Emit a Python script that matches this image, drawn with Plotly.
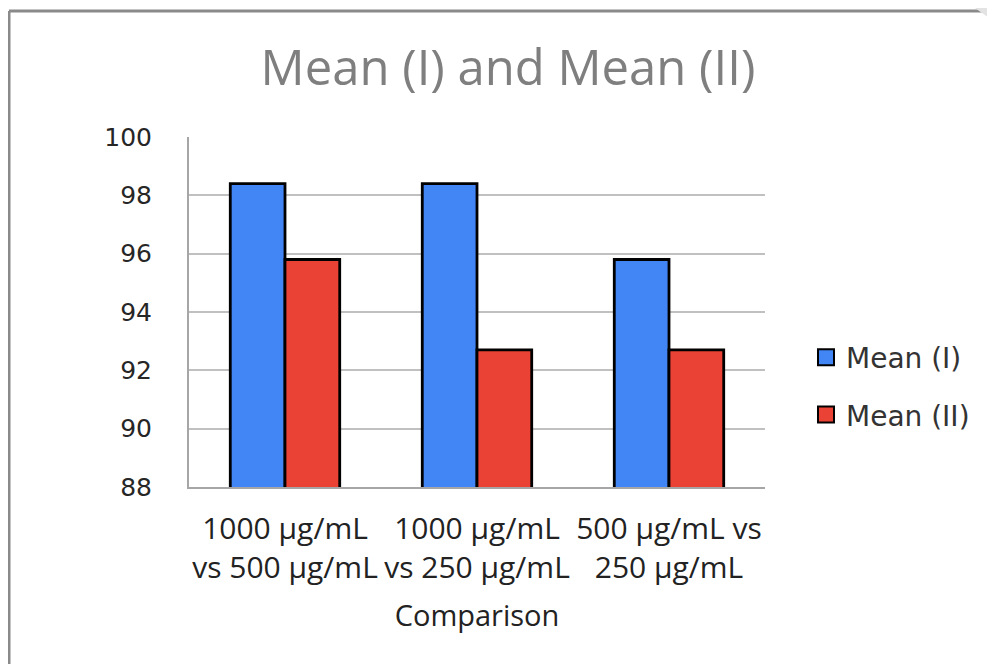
import plotly.graph_objects as go

categories = ["1000 µg/mL<br>vs 500 µg/mL", "1000 µg/mL<br>vs 250 µg/mL", "500 µg/mL vs<br>250 µg/mL"]
mean_1 = [98.4, 98.4, 95.8]
mean_2 = [95.8, 92.7, 92.7]
series_names = ["Mean (I)", "Mean (II)"]
y_ticks = [88, 90, 92, 94, 96, 98, 100]

# page body margin offsets the figure by 8px; work in screen coordinates
OFF = 8
SW, SH = 995, 664
W, H = SW - OFF, SH - OFF
PL, PR, PT, PB = 189, 765, 137, 487  # plot area in screen px
L, R, T, B = PL - OFF, SW - PR, PT - OFF, SH - PB
pw, ph = PR - PL, PB - PT

def px(x):
    return (x - PL) / pw

def py(y):
    return (PB - y) / ph

BLUE = "#4285f4"
RED = "#ea4335"

fig = go.Figure()
for name, vals, col in [(series_names[0], mean_1, BLUE), (series_names[1], mean_2, RED)]:
    fig.add_trace(go.Bar(x=categories, y=vals, name=name, showlegend=False,
                         marker=dict(color=col, line=dict(color="#000000", width=2.8))))
for i, (name, col) in enumerate([(series_names[0], BLUE), (series_names[1], RED)]):
    fig.add_trace(go.Scatter(x=[None], y=[None], mode="markers", name=name, legendgroup=f"g{i}",
                             marker=dict(symbol="square", size=16, color=col,
                                         line=dict(color="#000000", width=2))))

shapes = [
    dict(type="line", xref="paper", yref="paper", x0=px(9), x1=px(SW + 5), y0=py(11), y1=py(11),
         line=dict(color="#8a8a8a", width=3)),
    dict(type="line", xref="paper", yref="paper", x0=px(9), x1=px(9), y0=py(11), y1=py(SH + 5),
         line=dict(color="#8a8a8a", width=3)),
    dict(type="path", xref="paper", yref="paper",
         path=f"M {px(975)},{py(OFF)} L {px(SW)},{py(OFF)} L {px(SW)},{py(22)} Z",
         fillcolor="#e3e3e3", line=dict(width=0)),
]

fig.update_layout(
    width=W, height=H,
    margin=dict(l=L, r=R, t=T, b=B, autoexpand=False),
    paper_bgcolor="white", plot_bgcolor="white",
    barmode="group", bargap=0.43, bargroupgap=0,
    title=dict(text="Mean (I) and Mean (II)", x=(508 - OFF) / W, xanchor="center", xref="container",
               y=1 - (68 - OFF) / H, yanchor="middle", yref="container",
               font=dict(family="Open Sans", size=49, color="#7f7f7f")),
    xaxis=dict(showline=True, linecolor="#a6a6a6", linewidth=2, showgrid=False,
               ticks="", tickangle=0, automargin=False,
               tickfont=dict(family="Open Sans", size=30, color="#222222"),
               ticklabelstandoff=14,
               title=dict(text="Comparison", font=dict(family="Open Sans", size=29, color="#222222"),
                          standoff=20)),
    yaxis=dict(range=[88, 100], tickvals=y_ticks, showline=True, linecolor="#a6a6a6", linewidth=2,
               showgrid=True, gridcolor="#c0c0c0", gridwidth=2, zeroline=False,
               ticks="", ticklabelstandoff=30, automargin=False,
               tickfont=dict(family="DejaVu Sans", size=25, color="#262626")),
    legend=dict(x=px(806), xanchor="left", y=py(386), yanchor="middle", xref="paper", yref="paper",
                font=dict(family="DejaVu Sans", size=28, color="#333333"),
                traceorder="grouped", tracegroupgap=18, itemwidth=30, bgcolor="rgba(0,0,0,0)"),
    shapes=shapes,
)

fig.write_html("out.html")
